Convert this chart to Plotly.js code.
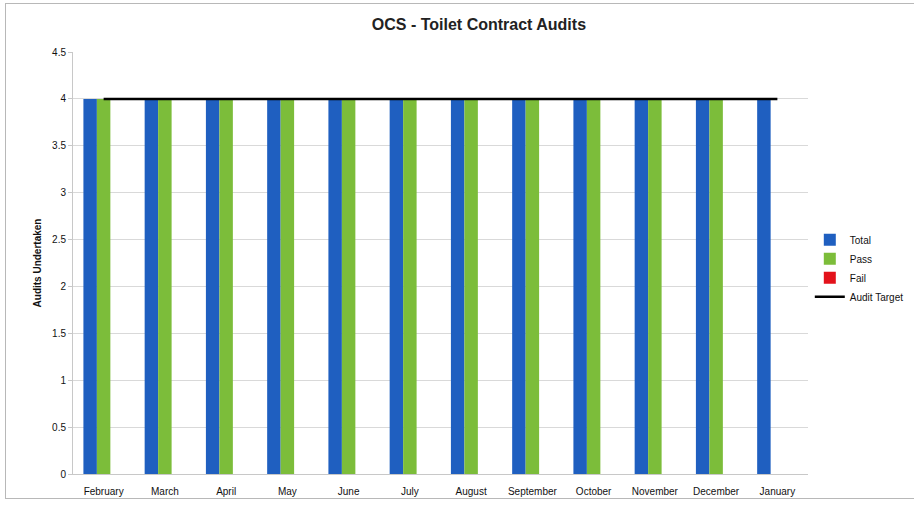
<!DOCTYPE html>
<html><head><meta charset="utf-8">
<script src="https://cdn.plot.ly/plotly-3.0.1.min.js"></script>
<style>
html,body{margin:0;padding:0;background:#fff;}
#frame{position:absolute;left:5px;top:3px;width:930px;height:496px;border:1px solid #b8b8b8;box-sizing:border-box;}
#chart{position:absolute;left:0;top:0;width:914px;height:509px;}
</style></head>
<body>
<div id="frame"></div>
<div id="chart"></div>
<script>
const months = ["February","March","April","May","June","July","August","September","October","November","December","January"];
const total = [4,4,4,4,4,4,4,4,4,4,4,4];
const pass  = [4,4,4,4,4,4,4,4,4,4,4,0];
const fail  = [0,0,0,0,0,0,0,0,0,0,0,0];
const target = [4,4,4,4,4,4,4,4,4,4,4,4];
const yTicks = [0,0.5,1,1.5,2,2.5,3,3.5,4,4.5];
const yTickText = ["0","0.5","1","1.5","2","2.5","3","3.5","4","4.5"];

const F = '"Liberation Sans Narrow", "Liberation Sans", Arial, sans-serif';
const traces = [
  {type:'bar', name:'Total', x:months, y:total, marker:{color:'#1f5fc0'}},
  {type:'bar', name:'Pass', x:months, y:pass, marker:{color:'#7cbd3a'}},
  {type:'bar', name:'Fail', x:months, y:fail, marker:{color:'#e3121b'}},
  {type:'scatter', mode:'lines', name:'Audit Target', x:months, y:target, line:{color:'#000', width:2.5}}
];
const layout = {
  width:914, height:509,
  paper_bgcolor:'rgba(0,0,0,0)', plot_bgcolor:'rgba(0,0,0,0)',
  margin:{l:73, r:106, t:52, b:35, autoexpand:false},
  barmode:'group', bargap:0.34, bargroupgap:0,
  title:{text:'<b>OCS - Toilet Contract Audits</b>', xref:'container', x:0.524, xanchor:'center', yref:'container', y:0.953, yanchor:'middle',
         font:{family:F, size:16, color:'#222'}},
  xaxis:{type:'category', showgrid:false, showline:true, linecolor:'#c8c8c8', linewidth:1,
         ticks:'', tickfont:{family:F, size:10, color:'#111'}, ticklabelstandoff:8, fixedrange:true, automargin:false},
  yaxis:{range:[0,4.5], tickvals:yTicks, ticktext:yTickText, showgrid:true, gridcolor:'#d9d9d9', gridwidth:1,
         showline:true, linecolor:'#c8c8c8', linewidth:1, ticks:'outside', ticklen:4, tickcolor:'#c8c8c8',
         zeroline:false, tickfont:{family:F, size:10, color:'#111'}, automargin:false,
         title:{text:'<b>Audits Undertaken</b>', font:{family:F, size:10, color:'#111'}, standoff:8}},
  showlegend:true,
  legend:{xref:'container', yref:'container', x:0.886, xanchor:'left', y:0.473, yanchor:'middle',
          font:{family:F, size:10, color:'#111'},
          tracegroupgap:3, itemwidth:30, bgcolor:'rgba(0,0,0,0)'}
};
Plotly.newPlot('chart', traces, layout, {displayModeBar:false, staticPlot:true});
</script>
</body></html>
